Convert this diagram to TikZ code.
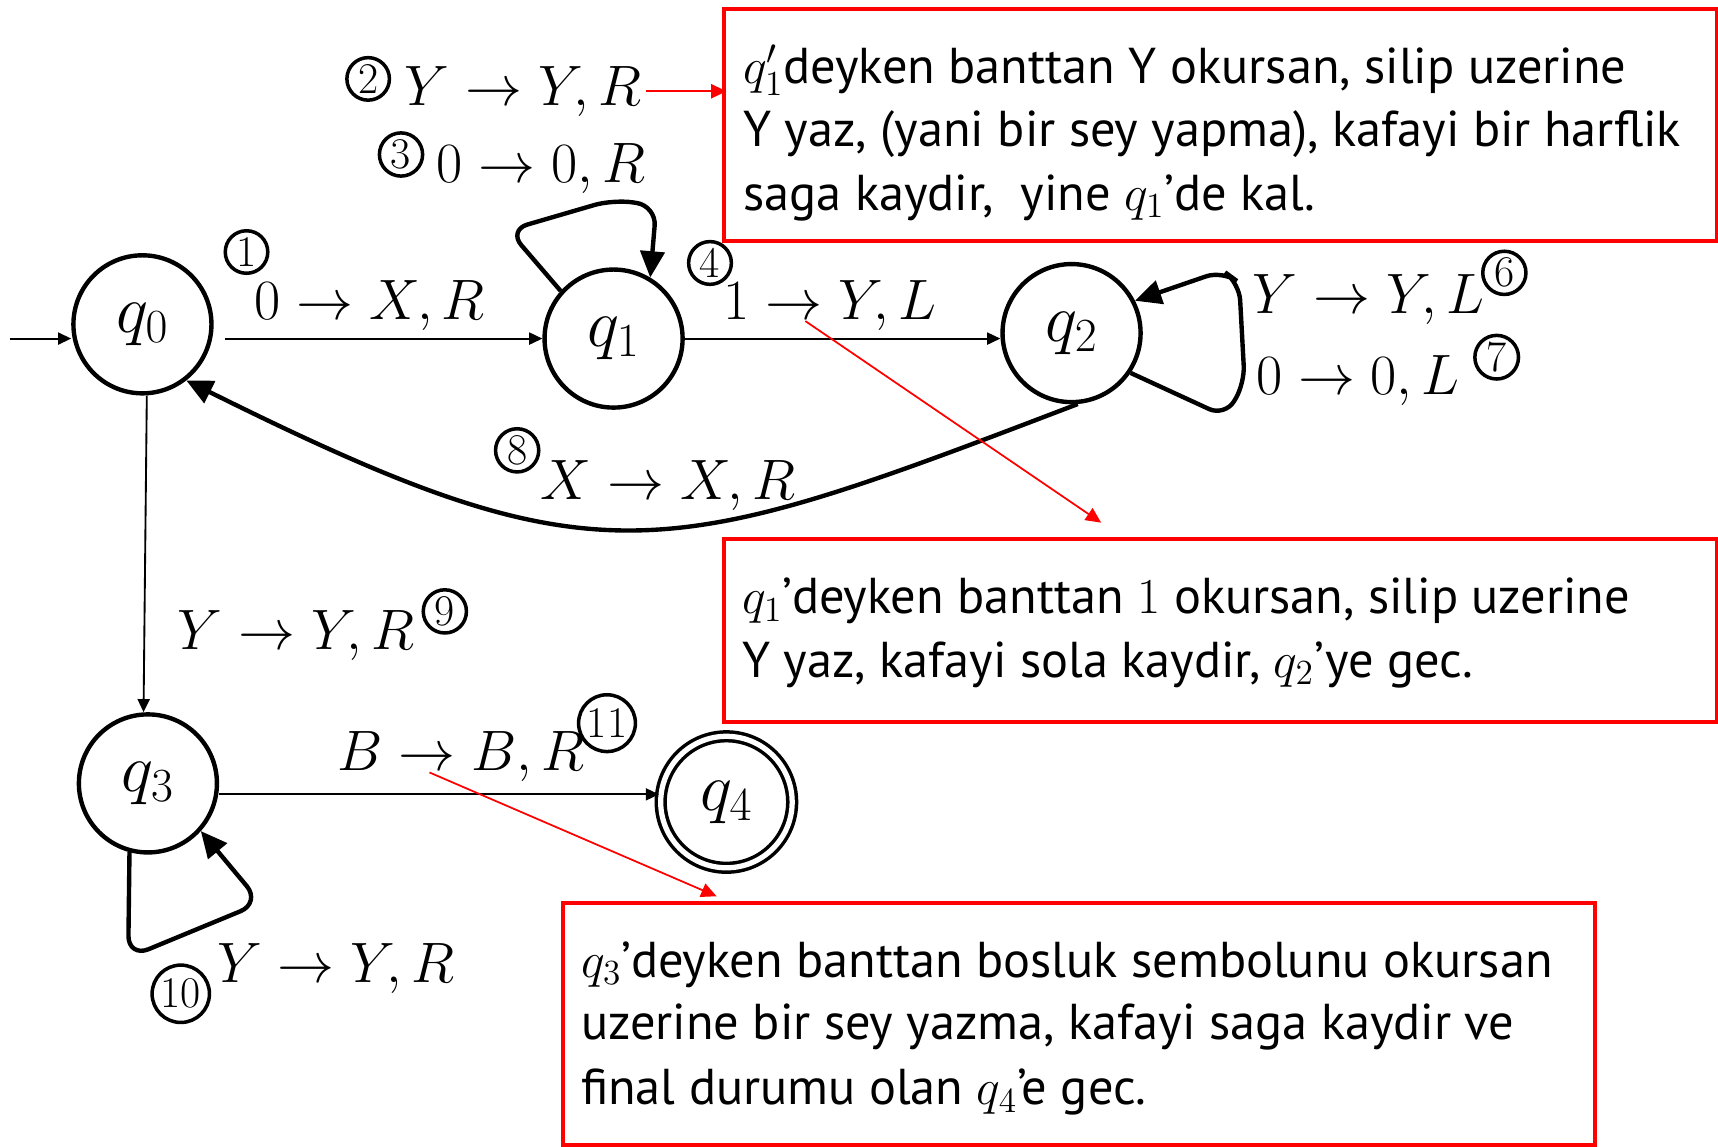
\RequirePackage{fix-cm}
\documentclass[tikz,border=0pt]{standalone}
\usepackage{fontspec}
\newfontfamily\boxfont{PT Sans}
\usetikzlibrary{arrows.meta}
\tikzset{
  state/.style={circle, draw, line width=2pt, minimum size=63pt, inner sep=0pt, font=\fontsize{31}{31}\selectfont},
  final/.style={circle, draw, line width=1.6pt, double, double distance=2.4pt, minimum size=60pt, inner sep=0pt, font=\fontsize{31}{31}\selectfont},
  tedge/.style={line width=0.85pt, -{Triangle[length=6pt,width=5.5pt]}},
  kedge/.style={line width=2pt, -{Triangle[length=12pt,width=11pt]}},
  tlabel/.style={anchor=base west, inner sep=0pt, font=\fontsize{26}{26}\selectfont},
  num/.style={circle, draw, line width=1.6pt, inner sep=1.2pt, font=\fontsize{20}{20}\selectfont},
  redbox/.style={draw=red, line width=1.8pt, anchor=north west, inner sep=0pt},
  boxtext/.style={anchor=base west, inner sep=0pt, font=\boxfont\fontsize{23}{23}\selectfont},
  redarrow/.style={draw=red, line width=0.8pt, -{Triangle[length=7pt,width=6.5pt]}}
}
\begin{document}
\begin{tikzpicture}[x=0.5pt,y=-0.5pt]
\useasboundingbox (0,0) rectangle (1568,1046);
% states
\node[state] (q0) at (130,296) {$q_0$};
\node[state] (q1) at (560,309) {$q_1$};
\node[state] (q2) at (978,304) {$q_2$};
\node[state] (q3) at (135,715) {$q_3$};
\node[final] (q4) at (663,732) {$q_4$};
% thin edges
\coordinate (init) at (9,309);
\draw[tedge] (init) -- (init -| q0.west);
\draw[tedge, shorten <=5pt] (q0.east |- q1.west) -- (q1.west);
\draw[tedge] (q1.east) -- (q1.east -| q2.west);
\draw[tedge] ([xshift=2pt]q0.south) -- ([xshift=-2pt]q3.north);
\draw[tedge] ([yshift=-5pt]q3.east) -- ([yshift=-5pt]q3.east -| q4.west);
% loops and thick edge
\draw[kedge, rounded corners=9pt] (q1.138) -- (464,210) -- (560,182) -- (599,188) -- (q1.59);
\draw[kedge, rounded corners=8pt] (q2.-34) -- (1118,380) -- (1136,350) -- (1131,258) -- (1116,247) -- (q2.27);
\draw[kedge, rounded corners=10pt] (q3.-105) -- (117,874) -- (238,824) -- (q3.-42);
\draw[kedge] (q2.-85) .. controls (603,514) and (548,535) .. (q0.-52);
% labels
\node[num] (c1) at (225,230) {1};
\node[tlabel] (l1) at (232,292) {$0 \rightarrow X, R$};
\node[num] (c2) at (336,72) {2};
\node[tlabel] (l2) at (369,96) {$Y \rightarrow Y, R$};
\node[num] (c3) at (366,141) {3};
\node[tlabel] (l3) at (398,167) {$0 \rightarrow 0, R$};
\node[num] (c4) at (648,240) {4};
\node[tlabel] (l4) at (660,292) {$1 \rightarrow Y, L$};
\node[tlabel] (l6) at (1143,286) {$Y \rightarrow Y, L$};
\node[num] (c6) at (1373,249) {6};
\node[tlabel] (l7) at (1146,360) {$0 \rightarrow 0, L$};
\node[num] (c7) at (1366,326) {7};
\node[num] (c8) at (472,411) {8};
\node[tlabel] (l8) at (493,456) {$X \rightarrow X, R$};
\node[tlabel] (l9) at (162,593) {$Y \rightarrow Y, R$};
\node[num] (c9) at (406,558) {9};
\node[tlabel] (l11) at (308,703) {$B \rightarrow B, R$};
\node[num] (c11) at (554,660) {11};
\node[tlabel] (l10) at (198,897) {$Y \rightarrow Y, R$};
\node[num] (c10) at (165,907) {10};
% boxes
\node[redbox, minimum width=453pt, minimum height=106pt] (b1) at (659,6) {};
\node[redbox, minimum width=453pt, minimum height=83.5pt] (b2) at (659,490) {};
\node[redbox, minimum width=471pt, minimum height=110.5pt] (b3) at (512,822) {};
\node[boxtext] (t1a) at (678,76) {$q'_1$deyken banttan Y okursan, silip uzerine};
\node[boxtext] (t1b) at (678,134) {Y yaz, (yani bir sey yapma), kafayi bir harflik};
\node[boxtext] (t1c) at (678,192) {saga kaydir,\ \ yine $q_1$’de kal.};
\node[boxtext] (t2a) at (677,560) {$q_1$’deyken banttan $1$ okursan, silip uzerine};
\node[boxtext] (t2b) at (677,618) {Y yaz, kafayi sola kaydir, $q_2$’ye gec.};
\node[boxtext] (t3a) at (530,892) {$q_3$’deyken banttan bosluk sembolunu okursan};
\node[boxtext] (t3b) at (530,949) {uzerine bir sey yazma, kafayi saga kaydir ve};
\node[boxtext] (t3c) at (530,1008) {final durumu olan $q_4$’e gec.};
% red connectors
\draw[redarrow] ([xshift=2pt]l2.east) -- ([xshift=2pt]l2.east -| b1.west);
\coordinate (r4s) at (735,293);
\coordinate (r4e) at (1005,477);
\draw[redarrow] (r4s) -- (r4e);
\coordinate (r11s) at (392,705);
\coordinate (r11e) at (654,818);
\draw[redarrow] (r11s) -- (r11e);
\end{tikzpicture}
\end{document}
